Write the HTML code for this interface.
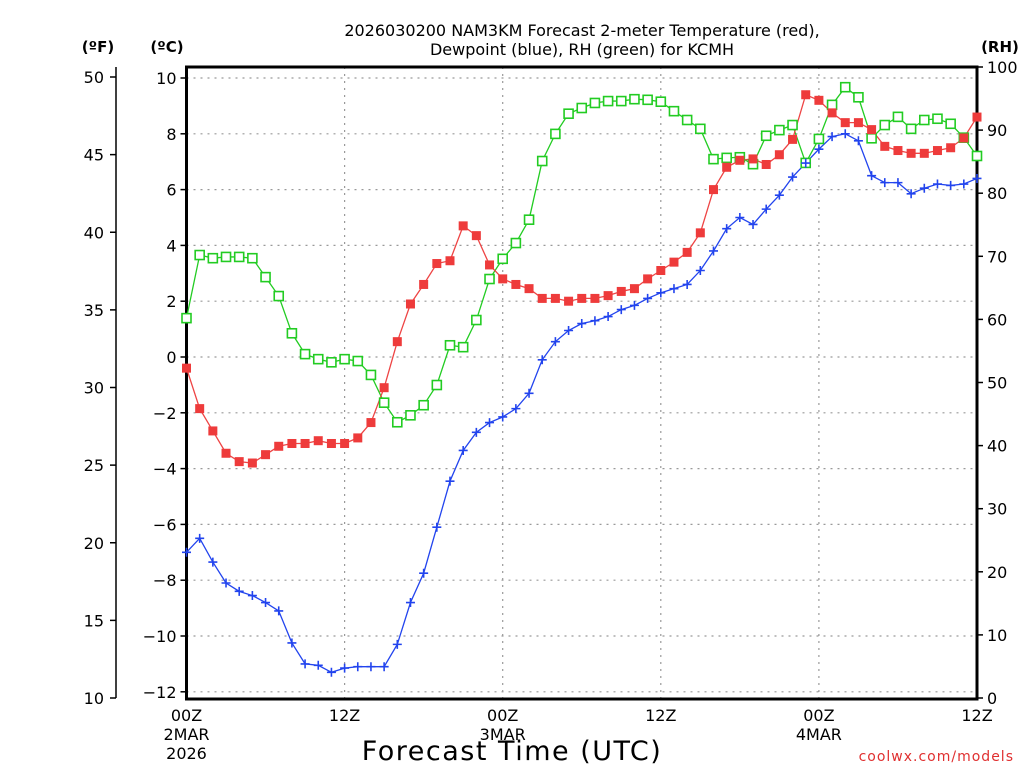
<!DOCTYPE html>
<html><head><meta charset="utf-8"><style>
body{margin:0;background:#fff;}
svg{display:block;font-family:"DejaVu Sans","Liberation Sans",sans-serif;}
</style></head><body>
<svg id="chart" width="1024" height="768" viewBox="0 0 1024 768">
<rect width="1024" height="768" fill="#fff"/>
<g id="grid"></g>
<g id="axes"></g>
<g id="series"></g>
<text x="582" y="36" font-size="16" text-anchor="middle">2026030200 NAM3KM Forecast 2-meter Temperature (red),</text>
<text x="582" y="55" font-size="16" text-anchor="middle">Dewpoint (blue), RH (green) for KCMH</text>
<text x="98" y="52" font-size="15" font-weight="bold" text-anchor="middle">(ºF)</text>
<text x="167" y="52" font-size="15" font-weight="bold" text-anchor="middle">(ºC)</text>
<text x="1000" y="52" font-size="15" font-weight="bold" text-anchor="middle">(RH)</text>
<text x="512" y="760" font-size="27" letter-spacing="1.5" text-anchor="middle">Forecast Time (UTC)</text>
<text x="1014" y="761" font-size="14" fill="#e03030" text-anchor="end" letter-spacing="1">coolwx.com/models</text>
</svg>
<script>
const hours=[];for(let i=0;i<=60;i++)hours.push(i);
const tempC=[-0.4,-1.85,-2.65,-3.45,-3.75,-3.8,-3.5,-3.2,-3.1,-3.1,-3.0,-3.1,-3.1,-2.9,-2.35,-1.1,0.55,1.9,2.6,3.35,3.45,4.7,4.35,3.3,2.8,2.6,2.45,2.1,2.1,2.0,2.1,2.1,2.2,2.35,2.45,2.8,3.1,3.4,3.75,4.45,6.0,6.8,7.05,7.1,6.9,7.25,7.8,9.4,9.2,8.75,8.4,8.4,8.15,7.55,7.4,7.3,7.3,7.4,7.5,7.85,8.6];
const dewC=[-7.0,-6.5,-7.35,-8.1,-8.4,-8.55,-8.8,-9.1,-10.25,-11.0,-11.05,-11.3,-11.15,-11.1,-11.1,-11.1,-10.3,-8.8,-7.75,-6.1,-4.45,-3.35,-2.7,-2.35,-2.15,-1.85,-1.3,-0.1,0.55,0.95,1.2,1.3,1.45,1.7,1.85,2.1,2.3,2.45,2.6,3.1,3.8,4.6,5.0,4.75,5.3,5.8,6.45,6.95,7.45,7.9,8.0,7.75,6.5,6.25,6.25,5.85,6.05,6.2,6.15,6.2,6.4];
const rh=[60.2,70.2,69.7,69.9,69.9,69.7,66.7,63.7,57.8,54.5,53.7,53.2,53.7,53.4,51.2,46.8,43.7,44.8,46.4,49.6,55.9,55.6,59.9,66.4,69.6,72.1,75.8,85.1,89.4,92.6,93.5,94.3,94.6,94.6,94.9,94.8,94.5,93.0,91.6,90.2,85.4,85.6,85.7,84.6,89.1,90.0,90.8,84.8,88.6,94.0,96.8,95.2,88.7,90.8,92.1,90.2,91.6,91.8,91.0,88.8,85.9];
const cTicks=[-12,-10,-8,-6,-4,-2,0,2,4,6,8,10];
const fTicks=[10,15,20,25,30,35,40,45,50];
const rhTicks=[0,10,20,30,40,50,60,70,80,90,100];
const xTickHours=[0,12,24,36,48,60];
const xTickLabels=["00Z","12Z","00Z","12Z","00Z","12Z"];
const xSubLabels=[["2MAR","2026"],[],["3MAR"],[],["4MAR"],[]];

const L=186.5,R=977,T=67,B=699;
const xs=h=>L+(R-L)*h/60;
const yc=c=>357-c*27.9;
const yf=f=>698-(f-10)*(621/40);
const yr=r=>698-r*6.31;
const NS="http://www.w3.org/2000/svg";
function mk(parent,tag,attrs){const e=document.createElementNS(NS,tag);for(const k in attrs)e.setAttribute(k,attrs[k]);parent.appendChild(e);return e;}
const grid=document.getElementById('grid'),axes=document.getElementById('axes'),ser=document.getElementById('series');

cTicks.forEach(c=>{
 const g=mk(grid,'line',{x1:L,x2:R,y1:yc(c),y2:yc(c),stroke:'#999','stroke-width':1.2,'stroke-dasharray':'2 5'});
 
 
 const t=mk(axes,'line',{x1:L,x2:L-6,y1:yc(c),y2:yc(c),stroke:'#000','stroke-width':1.5});
 
 
 const tx=mk(axes,'text',{x:L-10,y:yc(c)+6,'font-size':16,'text-anchor':'end'});
 tx.textContent=(c<0?'\u2212'+(-c):c);
 
 
});
xTickHours.forEach((h,i)=>{
 if(h>0&&h<60){const g=mk(grid,'line',{x1:xs(h),x2:xs(h),y1:T,y2:B,stroke:'#999','stroke-width':1.2,'stroke-dasharray':'2 5'});
 
 }
 const tx=mk(axes,'text',{x:xs(h),y:B+22,'font-size':16,'text-anchor':'middle'});
 tx.textContent=xTickLabels[i];
 
 
 xSubLabels[i].forEach((s,j)=>{const t2=mk(axes,'text',{x:xs(h),y:B+41+j*19,'font-size':16,'text-anchor':'middle'});t2.textContent=s;
 
 });
});
fTicks.forEach(f=>{
 const t=mk(axes,'line',{x1:116,x2:110,y1:yf(f),y2:yf(f),stroke:'#000','stroke-width':1.5});
 
 
 const tx=mk(axes,'text',{x:104,y:yf(f)+6,'font-size':16,'text-anchor':'end'});
 tx.textContent=f;
 
 
});
rhTicks.forEach(r=>{
 const t=mk(axes,'line',{x1:R,x2:R+6,y1:yr(r),y2:yr(r),stroke:'#000','stroke-width':1.5});
 
 
 const tx=mk(axes,'text',{x:R+10,y:yr(r)+6,'font-size':16,'text-anchor':'start'});
 tx.textContent=r;
 
 
});
const fa=mk(axes,'line',{x1:116,x2:116,y1:yf(50)-10,y2:698,stroke:'#000','stroke-width':1.5});


const fr=mk(axes,'rect',{x:L,y:T,width:R-L,height:B-T,fill:'none',stroke:'#000','stroke-width':3});



function line(vals,yfn,color,name){
 const p=mk(ser,'polyline',{points:vals.map((v,i)=>xs(hours[i])+','+yfn(v)).join(' '),fill:'none',stroke:color,'stroke-width':1.3});
 
 
}
line(rh,yr,'#22cc22','rh');
line(tempC,yc,'#ee4444','temperature');
line(dewC,yc,'#2244ee','dewpoint');
rh.forEach((v,i)=>{const m=mk(ser,'rect',{x:xs(hours[i])-4.5,y:yr(v)-4.5,width:9,height:9,fill:'#fff',stroke:'#22cc22','stroke-width':1.6});
 
 });
tempC.forEach((v,i)=>{const m=mk(ser,'rect',{x:xs(hours[i])-4.5,y:yc(v)-4.5,width:9,height:9,fill:'#ee3b3b'});
 
 });
dewC.forEach((v,i)=>{const x=xs(hours[i]),y=yc(v);
 const m=mk(ser,'path',{d:`M${x-4.5},${y}H${x+4.5}M${x},${y-4.5}V${y+4.5}`,stroke:'#2244ee','stroke-width':1.6});
 
 });
</script>
</body></html>
